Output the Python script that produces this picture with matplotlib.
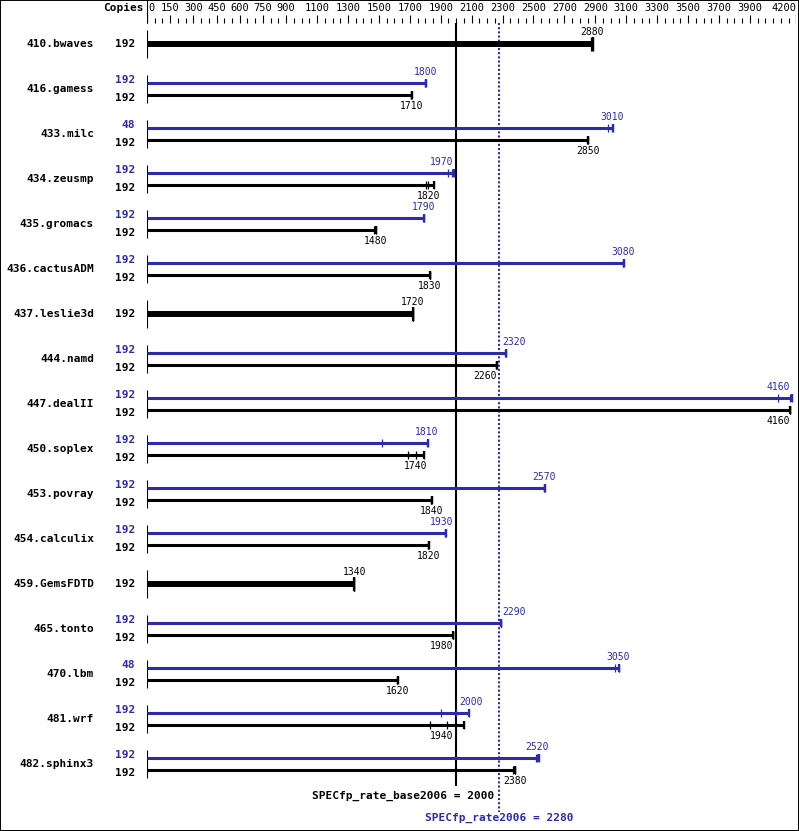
import matplotlib
matplotlib.use("Agg")
import matplotlib.pyplot as plt
from matplotlib.patches import Rectangle

# benchmark rows, top to bottom
benchmarks = ["410.bwaves", "416.gamess", "433.milc", "434.zeusmp", "435.gromacs",
              "436.cactusADM", "437.leslie3d", "444.namd", "447.dealII", "450.soplex",
              "453.povray", "454.calculix", "459.GemsFDTD", "465.tonto", "470.lbm",
              "481.wrf", "482.sphinx3"]
base_copies = [192] * 17
peak_copies = [None, 192, 48, 192, 192, 192, None, 192, 192, 192, 192, 192, None, 192, 48, 192, 192]
# median ratios printed on the chart
base_ratio = [2880, 1710, 2850, 1820, 1480, 1830, 1720, 2260, 4160, 1740, 1840, 1820, 1340,
              1980, 1620, 1940, 2380]
peak_ratio = [None, 1800, 3010, 1970, 1790, 3080, None, 2320, 4160, 1810, 2570, 1930, None,
              2290, 3050, 2000, 2520]
# individual runs
base_runs = [[2870, 2880, 2885], [1708, 1710, 1712], [2848, 2850, 2852], [1805, 1820, 1855],
             [1470, 1480, 1482], [1828, 1830, 1833], [1718, 1720, 1722], [2258, 2260, 2262],
             [4158, 4160, 4162], [1690, 1740, 1795], [1835, 1840, 1845], [1815, 1820, 1825],
             [1338, 1340, 1342], [1978, 1980, 1982], [1618, 1620, 1622], [1830, 1940, 2050],
             [2370, 2380, 2382]]
peak_runs = [None, [1798, 1800, 1802], [2985, 3010, 3013], [1950, 1970, 1985],
             [1788, 1790, 1792], [3078, 3080, 3083], None, [2318, 2320, 2323],
             [4080, 4160, 4170], [1520, 1810, 1820], [2565, 2570, 2575], [1928, 1930, 1935],
             None, [2288, 2290, 2292], [3025, 3050, 3053], [1900, 2000, 2080],
             [2515, 2520, 2535]]
base_overall = 2000
peak_overall = 2280
tick_labels = [0, 150, 300, 450, 600, 750, 900] + list(range(1100, 4000, 200)) + [4200]

BLUE = "#2b2bab"
W, H = 799, 831
fig = plt.figure(figsize=(W / 100, H / 100), dpi=100)
fig.patches.append(Rectangle((0, 0), 1, 1, transform=fig.transFigure, fill=False,
                             edgecolor="black", linewidth=1.4))
ax = fig.add_axes([147 / W, 0, 649.3 / W, 1])
ax.set_xlim(0, 4200)
ax.set_ylim(H, 0)
ax.axis("off")
yax = ax.get_yaxis_transform()
mono = "DejaVu Sans Mono"

# header scale
for v in range(0, 4201, 50):
    tall = v in tick_labels
    ax.vlines(v, 15 if tall else 18, 23, color="black", lw=0.8)
for v in tick_labels:
    ha = "right" if v == 4200 else ("left" if v == 0 else "center")
    ax.text(v + (8 if v == 0 else 0), 8, str(v), ha=ha, va="center", fontsize=7.5,
            family=mono, color="black")
ax.vlines([0, 4200], 0, 23, color="black", lw=0.8)
ax.text(-0.005, 8, "Copies", transform=yax, ha="right", va="center", fontsize=8,
        family=mono, weight="bold")

# reference lines
ax.vlines(base_overall, 23, 786, color="black", lw=1.5)
ax.vlines(peak_overall, 23, 812, color=BLUE, lw=1.5, linestyles=(0, (1, 1)))
ax.text(peak_overall - 35, 796, f"SPECfp_rate_base2006 = {base_overall}", ha="right",
        va="center", fontsize=8, family=mono, weight="bold")
ax.text(peak_overall, 818, f"SPECfp_rate2006 = {peak_overall}", ha="center", va="center",
        fontsize=8, family=mono, weight="bold", color=BLUE)


def label_x(m):
    for line in (base_overall, peak_overall):
        if abs(m - line) < 94:
            return line + 94 if m >= line else line - 94
    return min(m, 4085)


def draw_bar(y, runs, ratio, color, lw, half, label_dy):
    ax.hlines(y, 0, max(runs), color=color, lw=lw)
    for r in runs:
        ax.vlines(r, y - half, y + half, color=color, lw=0.9)
    ax.vlines(max(runs), y - half, y + half, color=color, lw=1.6)
    ax.text(label_x(ratio), y + label_dy, str(ratio), ha="center", va="center",
            fontsize=7, family=mono, color=color)


for i, name in enumerate(benchmarks):
    c = 44 + 45 * i
    ax.vlines(0, c - 14, c + 14, color="black", lw=0.8)
    ax.text(-0.0815, c, name, transform=yax, ha="right", va="center", fontsize=8,
            family=mono, weight="bold")
    if peak_runs[i] is None:
        ax.text(-0.018, c, str(base_copies[i]), transform=yax, ha="right", va="center",
                fontsize=8, family=mono, weight="bold")
        draw_bar(c, base_runs[i], base_ratio[i], "black", 4.3, 7, -12)
    else:
        ax.text(-0.018, c - 9, str(peak_copies[i]), transform=yax, ha="right",
                va="center", fontsize=8, family=mono, weight="bold", color=BLUE)
        ax.text(-0.018, c + 9, str(base_copies[i]), transform=yax, ha="right",
                va="center", fontsize=8, family=mono, weight="bold")
        draw_bar(c - 6, peak_runs[i], peak_ratio[i], BLUE, 2.2, 4, -11)
        draw_bar(c + 6, base_runs[i], base_ratio[i], "black", 2.2, 4, 11)

fig.savefig("out.png", dpi=100)
